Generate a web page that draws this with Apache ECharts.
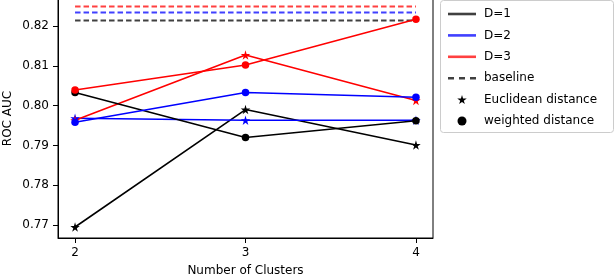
<!DOCTYPE html>
<html>
<head>
<meta charset="utf-8">
<script src="https://cdn.jsdelivr.net/npm/echarts@6/dist/echarts.min.js"></script>
<style>html,body{margin:0;padding:0;background:#fff}#c{width:616px;height:276px}</style>
</head>
<body>
<div id="c"></div>
<script>
// ---- data ----
var clusters = [2, 3, 4];
var d1Euclid = [0.7695, 0.7990, 0.7901];
var d2Euclid = [0.7968, 0.7963, 0.7963];
var d3Euclid = [0.7963, 0.8127, 0.8013];
var d1Weighted = [0.8033, 0.7920, 0.7962];
var d2Weighted = [0.7958, 0.8033, 0.8021];
var d3Weighted = [0.8039, 0.8102, 0.8217];
var baselines = [0.8214, 0.8234, 0.8249]; // D=1, D=2, D=3
var yTicks = [0.77, 0.78, 0.79, 0.80, 0.81, 0.82];
var legendNames = ['D=1', 'D=2', 'D=3', 'baseline', 'Euclidean distance', 'weighted distance'];

var STAR = 'path://M50,0 L61,35 L98,35 L68,57 L79,91 L50,70 L21,91 L32,57 L2,35 L39,35 Z';
var FONT = 'DejaVu Sans';
var colors = ['#000000', '#0000ff', '#ff0000'];
var legendColors = ['#404040', '#4040ff', '#ff4040'];

function pts(vals) { return clusters.map(function (c, i) { return [c, vals[i]]; }); }

var series = [];
[d1Euclid, d2Euclid, d3Euclid].forEach(function (v, i) {
  series.push({
    name: 'D=' + (i + 1) + ' euclid', type: 'line', data: pts(v),
    symbol: STAR, symbolSize: 9.5, showSymbol: true,
    lineStyle: { color: colors[i], width: 1.6 }, itemStyle: { color: colors[i] },
    animation: false, z: 2
  });
});
[d1Weighted, d2Weighted, d3Weighted].forEach(function (v, i) {
  series.push({
    name: 'D=' + (i + 1) + ' weighted', type: 'line', data: pts(v),
    symbol: 'circle', symbolSize: 7.5, showSymbol: true,
    lineStyle: { color: colors[i], width: 1.6 }, itemStyle: { color: colors[i] },
    animation: false, z: 3
  });
});
baselines.forEach(function (b, i) {
  series.push({
    name: 'baseline D=' + (i + 1), type: 'line',
    data: [[clusters[0], b], [clusters[clusters.length - 1], b]],
    symbol: 'none', lineStyle: { color: legendColors[i], width: 2, type: [5.5, 3] },
    animation: false, z: 1
  });
});
legendNames.forEach(function (n) {
  series.push({ name: n, type: 'line', data: [], animation: false });
});

var lineIcon = 'path://M0,0h28v2.6h-28z';
var dashIcon = 'path://M0,0h6v2.6h-6z M11,0h6v2.6h-6z M22,0h6v2.6h-6z';

var option = {
  backgroundColor: '#fff',
  animation: false,
  grid: { left: 58, right: 183, top: -1, bottom: 38, containLabel: false, outerBoundsMode: 'none',
    show: true, borderColor: '#000', borderWidth: 1, backgroundColor: 'transparent' },
  xAxis: {
    type: 'value', min: 1.9, max: 4.1,
    name: 'Number of Clusters', nameLocation: 'middle', nameGap: 27, nameMoveOverlap: false,
    nameTextStyle: { fontFamily: FONT, fontSize: 12, color: '#000' },
    axisLine: { show: true, lineStyle: { color: '#000', width: 1 } },
    axisTick: { show: true, length: 5, lineStyle: { color: '#000' }, customValues: clusters },
    axisLabel: { fontFamily: FONT, fontSize: 12, color: '#000', margin: 9, customValues: clusters, formatter: function (v) { return String(v); } },
    splitLine: { show: false }
  },
  yAxis: {
    type: 'value', min: 0.76673, max: 0.82678,
    name: 'ROC AUC', nameLocation: 'middle', nameGap: 44, nameMoveOverlap: false,
    nameTextStyle: { fontFamily: FONT, fontSize: 12, color: '#000' },
    axisLine: { show: true, lineStyle: { color: '#000', width: 1 } },
    axisTick: { show: true, length: 5, lineStyle: { color: '#000' }, customValues: yTicks },
    axisLabel: { fontFamily: FONT, fontSize: 12, color: '#000', margin: 9, customValues: yTicks, formatter: function (v) { return v.toFixed(2); } },
    splitLine: { show: false }
  },
  legend: {
    orient: 'vertical', left: 443, top: 3,
    itemWidth: 28, itemHeight: 9, itemGap: 9.4,
    symbolKeepAspect: true,
    selectedMode: false,
    textStyle: { fontFamily: FONT, fontSize: 12, color: '#000', padding: [0, 0, 0, 3] },
    data: [
      { name: 'D=1', icon: lineIcon, itemStyle: { color: legendColors[0] } },
      { name: 'D=2', icon: lineIcon, itemStyle: { color: legendColors[1] } },
      { name: 'D=3', icon: lineIcon, itemStyle: { color: legendColors[2] } },
      { name: 'baseline', icon: dashIcon, itemStyle: { color: legendColors[0] } },
      { name: 'Euclidean distance', icon: STAR, itemStyle: { color: '#000' } },
      { name: 'weighted distance', icon: 'circle', itemStyle: { color: '#000' } }
    ]
  },
  graphic: [{
    type: 'rect', left: 440, top: 0, z: -1,
    shape: { width: 173, height: 132, r: 3 },
    style: { fill: '#fff', stroke: '#cccccc', lineWidth: 1 }
  }],
  series: series
};

var chart = echarts.init(document.getElementById('c'), null, { renderer: 'canvas' });
chart.setOption(option);
</script>
</body>
</html>
